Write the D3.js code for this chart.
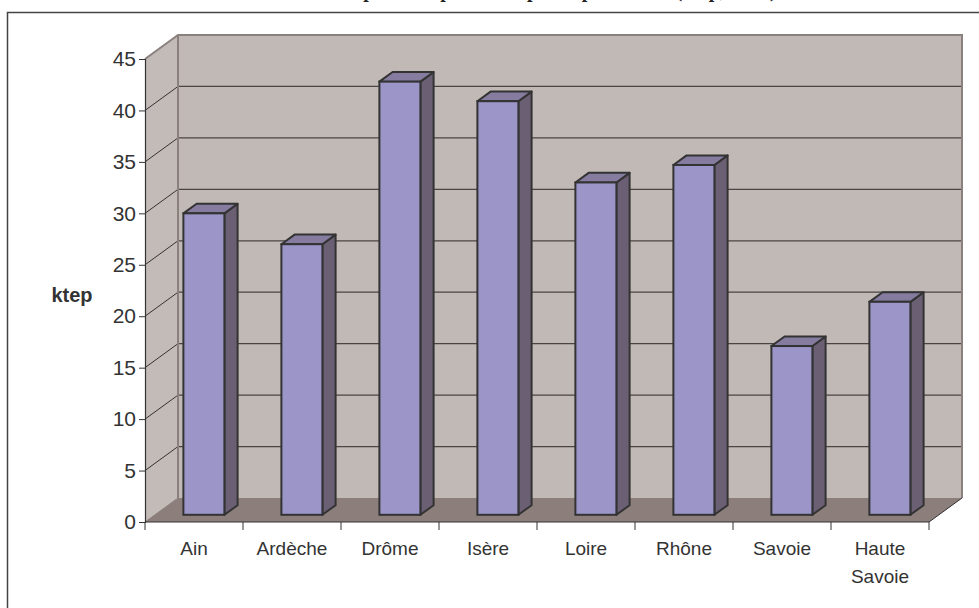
<!DOCTYPE html>
<html>
<head>
<meta charset="utf-8">
<title>ktep par département</title>
<style>
  body { margin: 0; background: #fff; }
  svg { display: block; font-family: "Liberation Sans", Arial, sans-serif; }
</style>
</head>
<body>
<svg></svg>
<script src="https://d3js.org/d3.v7.min.js"></script>
<script>
// data
var categories = ["Ain", "Ardèche", "Drôme", "Isère", "Loire", "Rhône", "Savoie", "Haute Savoie"];
var values = [29.3, 26.3, 42.1, 40.2, 32.3, 34.0, 16.4, 20.7];
var yTicks = [0, 5, 10, 15, 20, 25, 30, 35, 40, 45];

var svg = d3.select("svg").attr("width", 979).attr("height", 608);

// depth of the 3d box
var depthX = 33, depthY = -24;

var x = d3.scaleBand().domain(categories).range([145, 929]).padding(0);
var y = d3.scaleLinear().domain([0, 45]).range([522, 59]);

// outer frame (runs off the page on the right and bottom)
svg.append("rect")
    .attr("x", 7.5).attr("y", 12.5)
    .attr("width", 1000).attr("height", 700)
    .attr("fill", "none").attr("stroke", "#444").attr("stroke-width", 1.5);

// title, mostly cut at the top of the picture
svg.append("text")
    .attr("x", 490).attr("y", -3)
    .attr("text-anchor", "middle")
    .attr("font-family", "'Liberation Serif', 'Times New Roman', serif")
    .attr("font-weight", "bold").attr("font-size", 20)
    .attr("fill", "#222")
    .text("Consommation de produits pétroliers par département (ktep, 2005)");

var x0 = x.range()[0], x1 = x.range()[1];
var yTop = y(45), yBot = y(0);

// back wall
svg.append("polygon")
    .attr("points", [[x0 + depthX, yTop + depthY], [x1 + depthX, yTop + depthY], [x1 + depthX, yBot + depthY], [x0 + depthX, yBot + depthY]].join(" "))
    .attr("fill", "#c1b9b5");
// left wall
svg.append("polygon")
    .attr("points", [[x0, yTop], [x0 + depthX, yTop + depthY], [x0 + depthX, yBot + depthY], [x0, yBot]].join(" "))
    .attr("fill", "#c3bbb8");
// floor
svg.append("polygon")
    .attr("points", [[x0, yBot], [x0 + depthX, yBot + depthY], [x1 + depthX, yBot + depthY], [x1, yBot]].join(" "))
    .attr("fill", "#8c7f7b");

// gridlines on back wall and left wall
var grid = yTicks.filter(function(d) { return d > 0 && d < 45; });
svg.selectAll("line.gridback").data(grid).enter().append("line")
    .attr("class", "gridback")
    .attr("x1", x0 + depthX).attr("x2", x1 + depthX)
    .attr("y1", function(d) { return y(d) + depthY; })
    .attr("y2", function(d) { return y(d) + depthY; })
    .attr("stroke", "#4a4444").attr("stroke-width", 1.2);
svg.selectAll("line.gridside").data(grid).enter().append("line")
    .attr("class", "gridside")
    .attr("x1", x0).attr("x2", x0 + depthX)
    .attr("y1", function(d) { return y(d); })
    .attr("y2", function(d) { return y(d) + depthY; })
    .attr("stroke", "#333").attr("stroke-width", 1);

// wall edges
var edge = "#8a817f";
svg.append("path")
    .attr("d", "M" + x0 + "," + yTop + "L" + (x0 + depthX) + "," + (yTop + depthY) +
        "L" + (x1 + depthX) + "," + (yTop + depthY) + "L" + (x1 + depthX) + "," + (yBot + depthY))
    .attr("fill", "none").attr("stroke", edge).attr("stroke-width", 2);
svg.append("line")
    .attr("x1", x0 + depthX).attr("x2", x0 + depthX)
    .attr("y1", yTop + depthY).attr("y2", yBot + depthY)
    .attr("stroke", edge).attr("stroke-width", 2);
svg.append("line")
    .attr("x1", x1).attr("y1", yBot)
    .attr("x2", x1 + depthX).attr("y2", yBot + depthY)
    .attr("stroke", "#333").attr("stroke-width", 1);
svg.append("line")
    .attr("x1", x0).attr("y1", yBot)
    .attr("x2", x0 + depthX).attr("y2", yBot + depthY)
    .attr("stroke", "#8c7f7b").attr("stroke-width", 1);

// bars
var barW = 41;
var f0 = 0.3, f1 = 0.7; // bar depth within the box
var bars = svg.selectAll("g.bar").data(categories).enter().append("g").attr("class", "bar");
bars.each(function(c, i) {
    var g = d3.select(this);
    var bx = x(c) + (x.bandwidth() - barW) / 2 + depthX * f0;
    var by0 = y(0) + depthY * f0;
    var by1 = y(values[i]) + depthY * f0;
    var ddx = depthX * (f1 - f0), ddy = depthY * (f1 - f0);
    // side
    g.append("polygon")
        .attr("points", [[bx + barW, by1], [bx + barW + ddx, by1 + ddy], [bx + barW + ddx, by0 + ddy], [bx + barW, by0]].join(" "))
        .attr("fill", "#6b5f74").attr("stroke", "#333").attr("stroke-width", 2).attr("stroke-linejoin", "round");
    // top
    g.append("polygon")
        .attr("points", [[bx, by1], [bx + ddx, by1 + ddy], [bx + barW + ddx, by1 + ddy], [bx + barW, by1]].join(" "))
        .attr("fill", "#867ca0").attr("stroke", "#333").attr("stroke-width", 2).attr("stroke-linejoin", "round");
    // front
    g.append("rect")
        .attr("x", bx).attr("y", by1)
        .attr("width", barW).attr("height", by0 - by1)
        .attr("fill", "#9b95c8").attr("stroke", "#333").attr("stroke-width", 2);
});

// y axis
var yAxis = svg.append("g")
    .attr("transform", "translate(" + x0 + ",0)")
    .call(d3.axisLeft(y).tickValues(yTicks).tickSize(6).tickPadding(3).tickFormat(d3.format("d")));
yAxis.select(".domain").attr("stroke", "#333").attr("stroke-width", 1.2);
yAxis.selectAll(".tick line").attr("stroke", "#333");
yAxis.selectAll("text").attr("font-size", 21).attr("fill", "#333")
    .attr("font-family", "'Liberation Sans', Arial, sans-serif");

// x axis
var xAxis = svg.append("g")
    .attr("transform", "translate(0," + yBot + ")");
xAxis.append("line")
    .attr("x1", x0).attr("x2", x1).attr("y1", 0).attr("y2", 0)
    .attr("stroke", "#333").attr("stroke-width", 1.2);
var bounds = categories.map(function(c) { return x(c); }).concat([x1]);
xAxis.selectAll("line.xt").data(bounds).enter().append("line")
    .attr("class", "xt")
    .attr("x1", function(d) { return d; }).attr("x2", function(d) { return d; })
    .attr("y1", 0).attr("y2", 8)
    .attr("stroke", "#333");
xAxis.selectAll("text.cat").data(categories).enter().append("text")
    .attr("class", "cat")
    .attr("x", function(c) { return x(c) + x.bandwidth() / 2; })
    .attr("y", 33)
    .attr("text-anchor", "middle")
    .attr("font-size", 19).attr("fill", "#333")
    .each(function(c) {
        var parts = c.split(" ");
        var t = d3.select(this);
        parts.forEach(function(p, k) {
            t.append("tspan")
                .attr("x", x(c) + x.bandwidth() / 2)
                .attr("dy", k === 0 ? 0 : 28)
                .text(p);
        });
    });

// y label
svg.append("text")
    .attr("x", 72).attr("y", 302)
    .attr("text-anchor", "middle")
    .attr("font-weight", "bold").attr("font-size", 20).attr("fill", "#333")
    .text("ktep");
</script>
</body>
</html>
